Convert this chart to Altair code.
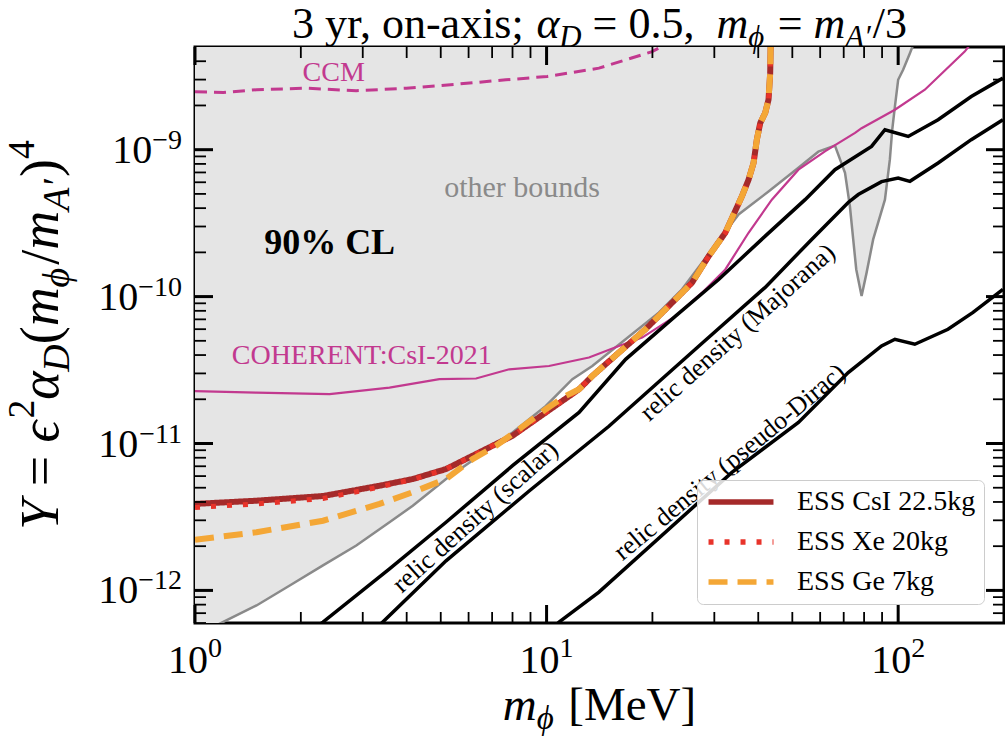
import altair as alt
import pandas as pd

# ---------------- data ----------------
# lower edge of the grey "other bounds" region
other_x = [1.0, 1.203, 1.496, 1.860, 2.312, 2.876, 3.574, 4.163, 5.176, 6.435, 8.0, 9.95,
           11.84, 13.49, 16.78, 20.85, 24.28, 27.67, 35.16, 42.78, 52.04, 59.3, 66.1,
           70.6, 72.9, 74.5, 76.0, 78.7, 81.3, 84.9, 91.7, 94.7, 96.2, 97.9, 100.0, 103.3, 108.0, 110.3]
other_y = [4.9e-13, 6.1e-13, 7.9e-13, 1.08e-12, 1.48e-12, 2.02e-12, 2.91e-12, 3.77e-12, 5.73e-12,
           8.25e-12, 1.19e-11, 1.80e-11, 2.74e-11, 3.37e-11, 5.12e-11, 7.77e-11, 1.12e-10, 1.70e-10,
           3.62e-10, 5.19e-10, 7.54e-10, 9.69e-10, 1.065e-9, 6.95e-10, 4.12e-10, 2.45e-10, 1.53e-10,
           1.01e-10, 1.45e-10, 2.45e-10, 4.57e-10, 8.55e-10, 1.37e-9, 1.97e-9, 2.99e-9, 3.50e-9, 4.54e-9, 5.17e-9]

ccm_x = [1.0, 1.203, 1.496, 2.074, 2.876, 3.987, 5.527, 7.66, 10.05, 14.09, 19.96, 21.97]
ccm_y = [2.48e-9, 2.45e-9, 2.56e-9, 2.62e-9, 2.52e-9, 2.62e-9, 2.79e-9, 2.99e-9, 3.15e-9, 3.59e-9, 4.65e-9, 5.25e-9]

coh_x = [1.0, 1.496, 2.415, 3.574, 4.955, 6.30, 7.83, 10.16, 13.20, 16.06, 18.70, 23.26, 27.67,
         32.24, 37.54, 43.72, 52.04, 61.9, 75.4, 78.7, 97.9, 119.1, 154.6, 160.1]
coh_y = [2.27e-11, 2.22e-11, 2.17e-11, 2.40e-11, 2.74e-11, 2.77e-11, 3.20e-11, 3.37e-11, 3.85e-11,
         4.61e-11, 5.26e-11, 7.37e-11, 1.063e-10, 1.53e-10, 2.72e-10, 4.57e-10, 7.31e-10, 9.74e-10,
         1.30e-9, 1.40e-9, 1.87e-9, 2.56e-9, 4.65e-9, 5.17e-9]

csi_x = [1.0, 1.496, 2.312, 3.349, 4.163, 5.176, 6.435, 8.0, 9.95, 12.37, 13.49, 16.06, 19.11, 22.26,
         25.92, 28.91, 32.24, 35.94, 37.54, 38.79, 39.63, 40.53, 41.86, 42.78, 43.25, 43.35, 43.4]
csi_y = [3.88e-12, 4.08e-12, 4.39e-12, 5.16e-12, 5.73e-12, 6.70e-12, 8.70e-12, 1.128e-11, 1.626e-11,
         2.34e-11, 2.88e-11, 4.16e-11, 5.99e-11, 8.62e-11, 1.243e-10, 1.884e-10, 2.72e-10, 4.82e-10,
         6.25e-10, 8.12e-10, 1.17e-9, 1.52e-9, 1.78e-9, 2.19e-9, 3.32e-9, 4.56e-9, 5.3e-9]

xe_x = [1.0, 1.496, 2.312, 3.349, 4.163, 5.176, 6.435, 8.0, 9.95, 12.37, 13.49, 16.06, 19.11, 22.26,
        25.92, 28.91, 32.24, 35.94, 37.54, 38.79, 39.63, 40.53, 41.86, 42.78, 43.25, 43.35, 43.4]
xe_y = [3.67e-12, 3.88e-12, 4.22e-12, 5.06e-12, 5.69e-12, 6.70e-12, 8.70e-12, 1.128e-11, 1.626e-11,
        2.34e-11, 2.88e-11, 4.16e-11, 5.99e-11, 8.62e-11, 1.243e-10, 1.884e-10, 2.72e-10, 4.82e-10,
        6.25e-10, 8.12e-10, 1.17e-9, 1.52e-9, 1.78e-9, 2.19e-9, 3.32e-9, 4.56e-9, 5.3e-9]

ge_x = [1.0, 1.496, 2.312, 3.349, 4.163, 5.176, 6.16, 7.18, 8.36, 9.95, 11.34, 12.37, 13.49, 16.06,
        19.11, 22.26, 25.92, 28.91, 32.24, 35.94, 37.54, 38.79, 39.63, 40.53, 41.86, 42.78, 43.25, 43.35, 43.4]
ge_y = [2.21e-12, 2.49e-12, 2.98e-12, 3.88e-12, 4.66e-12, 5.73e-12, 7.83e-12, 9.65e-12, 1.253e-11,
        1.713e-11, 2.11e-11, 2.34e-11, 2.88e-11, 4.16e-11, 5.99e-11, 8.62e-11, 1.243e-10, 1.884e-10,
        2.72e-10, 4.82e-10, 6.25e-10, 8.12e-10, 1.17e-9, 1.52e-9, 1.78e-9, 2.19e-9, 3.32e-9, 4.56e-9, 5.3e-9]

scalar_x = [2.12, 2.312, 3.574, 5.176, 8.0, 12.37, 16.78, 23.26, 30.86, 41.86, 54.36, 66.1, 84.0,
            91.7, 106.8, 129.9, 161.4, 198.6]
scalar_y = [5.23e-13, 6.09e-13, 1.40e-12, 2.91e-12, 7.06e-12, 1.626e-11, 3.74e-11, 7.37e-11, 1.308e-10,
            2.58e-10, 4.57e-10, 7.31e-10, 1.053e-9, 1.367e-9, 1.23e-9, 1.60e-9, 2.30e-9, 3.07e-9]

major_x = [3.20, 3.42, 5.176, 8.92, 15.04, 27.08, 41.86, 56.75, 72.1, 77.0, 89.7, 100.0, 108.0,
           129.9, 161.4, 198.6]
major_y = [5.23e-13, 6.09e-13, 1.59e-12, 4.75e-12, 1.31e-11, 4.59e-11, 1.155e-10, 2.45e-10, 4.37e-10,
           4.95e-10, 6.06e-10, 6.42e-10, 6.09e-10, 8.12e-10, 1.17e-9, 1.60e-9]

pdirac_x = [10.16, 10.85, 14.09, 33.66, 52.04, 72.1, 89.7, 97.9, 111.5, 138.6, 163.3, 198.6]
pdirac_y = [5.23e-13, 6.09e-13, 9.74e-13, 6.36e-12, 1.39e-11, 3.04e-11, 4.61e-11, 5.12e-11, 4.74e-11,
            5.99e-11, 7.81e-11, 1.12e-10]

series_names = ["ESS CsI 22.5kg", "ESS Xe 20kg", "ESS Ge 7kg"]
series_colors = ["#a52a2a", "#e8332a", "#f4a736"]
series_dash = [[1, 0], [5, 11], [19, 10]]

x_major = [1, 10, 100]
x_major_exp = ["0", "1", "2"]
x_minor = [2, 3, 4, 5, 6, 7, 8, 9, 20, 30, 40, 50, 60, 70, 80, 90]
y_major = [1e-12, 1e-11, 1e-10, 1e-9]
y_major_exp = ["−12", "−11", "−10", "−9"]
y_minor = [6e-13, 7e-13, 8e-13, 9e-13,
           2e-12, 3e-12, 4e-12, 5e-12, 6e-12, 7e-12, 8e-12, 9e-12,
           2e-11, 3e-11, 4e-11, 5e-11, 6e-11, 7e-11, 8e-11, 9e-11,
           2e-10, 3e-10, 4e-10, 5e-10, 6e-10, 7e-10, 8e-10, 9e-10,
           2e-9, 3e-9, 4e-9]

ann_text = ["other bounds", "90% CL", "CCM", "COHERENT:CsI-2021",
            "relic density (scalar)", "relic density (Majorana)", "relic density (pseudo-Dirac)"]
ann_x = [8.52, 2.415, 2.48, 2.98, 6.27, 34.95, 33.2]
ann_y = [5.52e-10, 2.33e-10, 3.34e-9, 3.93e-11, 3.16e-12, 5.71e-11, 7.47e-12]
ann_angle = [0, 0, 0, 0, 318.1, 318.3, 320.4]

# ---------------- layout ----------------
W, H = 809, 576
SERIF = "Liberation Serif"
MAGENTA = "#c2398f"
TICK_FS, EXP_FS = 40, 28
MAJ_LEN, MIN_LEN, MAJ_W, MIN_W = 18, 11, 3, 1.8

xscale = alt.Scale(type="log", domain=[1, 200], nice=False)
yscale = alt.Scale(type="log", domain=[6e-13, 5e-9], nice=False)

RM = {' ': .25, ',': .25, '.': .25, ';': .278, '-': .333, '−': .564, '=': .564, '/': .278, '(': .333,
      ')': .333, '[': .333, ']': .333, 'a': .444, 'e': .444, 'i': .278, 'n': .5, 'o': .5, 'r': .333,
      's': .389, 'x': .5, 'y': .5, 'M': .889, 'V': .722}
IT = {'Y': .556, 'm': .722, 'D': .722, 'A': .611, 'α': .52, 'ϵ': .44, 'ϕ': .6, '′': .28}


def width(s, italic=False):
    return sum((IT.get(c) if italic and c in IT else RM.get(c, .5)) for c in s)


def enc(xf="x", yf="y"):
    return dict(x=alt.X(f"{xf}:Q", scale=xscale, axis=None),
                y=alt.Y(f"{yf}:Q", scale=yscale, axis=None, stack=None))


def df(xs, ys):
    return pd.DataFrame({"x": xs, "y": ys})


other_df = df(other_x, other_y)
area = alt.Chart(other_df).mark_area(color="#e5e5e5", clip=True).encode(y2=alt.value(0), **enc())
other_line = alt.Chart(other_df).mark_line(color="#8a8a8a", strokeWidth=2.5, clip=True).encode(**enc())
ccm = alt.Chart(df(ccm_x, ccm_y)).mark_line(color=MAGENTA, strokeWidth=3, strokeDash=[12, 7],
                                            clip=True).encode(**enc())
coh = alt.Chart(df(coh_x, coh_y)).mark_line(color=MAGENTA, strokeWidth=2.2, clip=True).encode(**enc())
relic = [alt.Chart(df(a, b)).mark_line(color="black", strokeWidth=3.5, clip=True).encode(**enc())
         for a, b in [(scalar_x, scalar_y), (major_x, major_y), (pdirac_x, pdirac_y)]]

legend = alt.Legend(orient="none", legendX=502, legendY=433, title=None, labelFont=SERIF,
                    labelFontSize=28, labelColor="black", symbolType="M-3.2,0H3.2", symbolSize=412,
                    symbolStrokeWidth=5.5, symbolOffset=22, labelOffset=42, rowPadding=12, padding=8,
                    fillColor="rgba(255,255,255,0.85)", strokeColor="#cccccc", cornerRadius=6,
                    labelLimit=400)
ess_layers = []
for name, xs, ys, sw in zip(series_names, [csi_x, xe_x, ge_x], [csi_y, xe_y, ge_y], [6, 5, 6]):
    d = df(xs, ys)
    d["series"] = name
    ess_layers.append(
        alt.Chart(d).mark_line(strokeWidth=sw, clip=True).encode(
            color=alt.Color("series:N", scale=alt.Scale(domain=series_names, range=series_colors),
                            legend=legend),
            strokeDash=alt.StrokeDash("series:N", scale=alt.Scale(domain=series_names, range=series_dash),
                                      legend=legend),
            **enc()))

ann = pd.DataFrame({"t": ann_text, "x": ann_x, "y": ann_y, "a": ann_angle})


def ann_layer(rows, **kw):
    return alt.Chart(ann.iloc[rows]).mark_text(font=SERIF, align="center", baseline="middle", **kw).encode(
        text="t:N", angle=alt.Angle("a:Q", scale=None, legend=None), **enc())


texts = [
    ann_layer([0], fontSize=30, color="#8a8a8a"),
    ann_layer([1], fontSize=36, fontWeight="bold", color="black"),
    ann_layer([2, 3], fontSize=28, color=MAGENTA),
    ann_layer([4, 5, 6], fontSize=26, color="black"),
]

# ---------------- inward ticks on all four sides ----------------
ticks = []
for vals, length, sw in [(x_major, MAJ_LEN, MAJ_W), (x_minor, MIN_LEN, MIN_W)]:
    d = pd.DataFrame({"x": vals})
    for y0, y1 in [(H, H - length), (0, length)]:
        ticks.append(alt.Chart(d).mark_rule(color="black", strokeWidth=sw).encode(
            x=alt.X("x:Q", scale=xscale, axis=None), y=alt.value(y0), y2=alt.value(y1)))
for vals, length, sw in [(y_major, MAJ_LEN, MAJ_W), (y_minor, MIN_LEN, MIN_W)]:
    d = pd.DataFrame({"y": vals})
    for x0, x1 in [(0, length), (W, W - length)]:
        ticks.append(alt.Chart(d).mark_rule(color="black", strokeWidth=sw).encode(
            y=alt.Y("y:Q", scale=yscale, axis=None), x=alt.value(x0), x2=alt.value(x1)))

# ---------------- tick labels: "10" with a raised exponent ----------------
xl = pd.DataFrame({"x": x_major, "e": x_major_exp})
x_shift = (width("10") * TICK_FS + width("0") * EXP_FS) / 2 - width("0") * EXP_FS
xlab = [
    alt.Chart(xl).mark_text(font=SERIF, fontSize=TICK_FS, align="right", baseline="alphabetic",
                            dx=x_shift, color="black").encode(
        x=alt.X("x:Q", scale=xscale, axis=None), y=alt.value(H + 50), text=alt.value("10")),
    alt.Chart(xl).mark_text(font=SERIF, fontSize=EXP_FS, align="left", baseline="alphabetic",
                            dx=x_shift, color="black").encode(
        x=alt.X("x:Q", scale=xscale, axis=None), y=alt.value(H + 34), text="e:N"),
]
yl = pd.DataFrame({"y": y_major, "e": y_major_exp})
yl["xe"] = -13
yl["xb"] = [-13 - width(e) * EXP_FS for e in y_major_exp]
ylab = [
    alt.Chart(yl).mark_text(font=SERIF, fontSize=TICK_FS, align="right", baseline="alphabetic",
                            dy=13, color="black").encode(
        y=alt.Y("y:Q", scale=yscale, axis=None), x=alt.X("xb:Q", scale=None, axis=None),
        text=alt.value("10")),
    alt.Chart(yl).mark_text(font=SERIF, fontSize=EXP_FS, align="right", baseline="alphabetic",
                            dy=-1, color="black").encode(
        y=alt.Y("y:Q", scale=yscale, axis=None), x=alt.X("xe:Q", scale=None, axis=None), text="e:N"),
]


# ------------- composed math labels (title, axis titles) -------------
def compose(pieces, fs, center, base, vertical=False):
    rows = []
    ws = [width(t, it) * fs * sc for t, it, sc, sh in pieces]
    total = sum(ws)
    pos = 0.0
    for (t, it, sc, sh), w in zip(pieces, ws):
        lead = (len(t) - len(t.lstrip(" "))) * 0.25 * fs * sc
        along = pos + lead
        if vertical:
            rows.append(dict(t=t.strip(" "), px=base - sh * fs, py=center + total / 2 - along,
                             fs=fs * sc, ang=270, it=it))
        else:
            rows.append(dict(t=t.strip(" "), px=center - total / 2 + along, py=base - sh * fs,
                             fs=fs * sc, ang=0, it=it))
        pos += w
    return rows


title_pieces = [("3 yr, on-axis; ", False, 1, 0), ("α", True, 1, 0), ("D", True, .7, -.2),
                (" = 0.5,  ", False, 1, 0), ("m", True, 1, 0), ("ϕ", True, .7, -.2),
                (" = ", False, 1, 0), ("m", True, 1, 0), ("A′", True, .7, -.2), ("/3", False, 1, 0)]
xt_pieces = [("m", True, 1, 0), ("ϕ", True, .7, -.2), (" [MeV]", False, 1, 0)]
yt_pieces = [("Y", True, 1, 0), (" = ", False, 1, 0), ("ϵ", True, 1, 0), ("2", False, .7, .45),
             ("α", True, 1, 0), ("D", True, .7, -.2), ("(", False, 1, 0), ("m", True, 1, 0),
             ("ϕ", True, .7, -.2), ("/", False, 1, 0), ("m", True, 1, 0), ("A′", True, .7, -.2),
             (")", False, 1, 0), ("4", False, .7, .45)]

rows = (compose(title_pieces, 44, W / 2, -9)
        + compose(xt_pieces, 47, W / 2, 673)
        + compose(yt_pieces, 54, H / 2, -137, vertical=True))
math_df = pd.DataFrame(rows)


def math_layer(italic):
    return alt.Chart(math_df[math_df["it"] == italic]).mark_text(
        font=SERIF, align="left", baseline="alphabetic", color="black",
        fontStyle="italic" if italic else "normal").encode(
        x=alt.X("px:Q", scale=None, axis=None), y=alt.Y("py:Q", scale=None, axis=None),
        text="t:N", size=alt.Size("fs:Q", scale=None, legend=None),
        angle=alt.Angle("ang:Q", scale=None, legend=None))


chart = alt.layer(area, other_line, ccm, coh, *relic, *ess_layers, *texts, *ticks, *xlab, *ylab,
                  math_layer(False), math_layer(True)).properties(
    width=W, height=H, autosize=alt.AutoSizeParams(type="none"),
    padding={"left": 195, "top": 47, "right": 1, "bottom": 118}).configure(
    background="white").configure_view(stroke="black", strokeWidth=3)

chart.save("out.html", embed_options={"renderer": "svg", "actions": False})
